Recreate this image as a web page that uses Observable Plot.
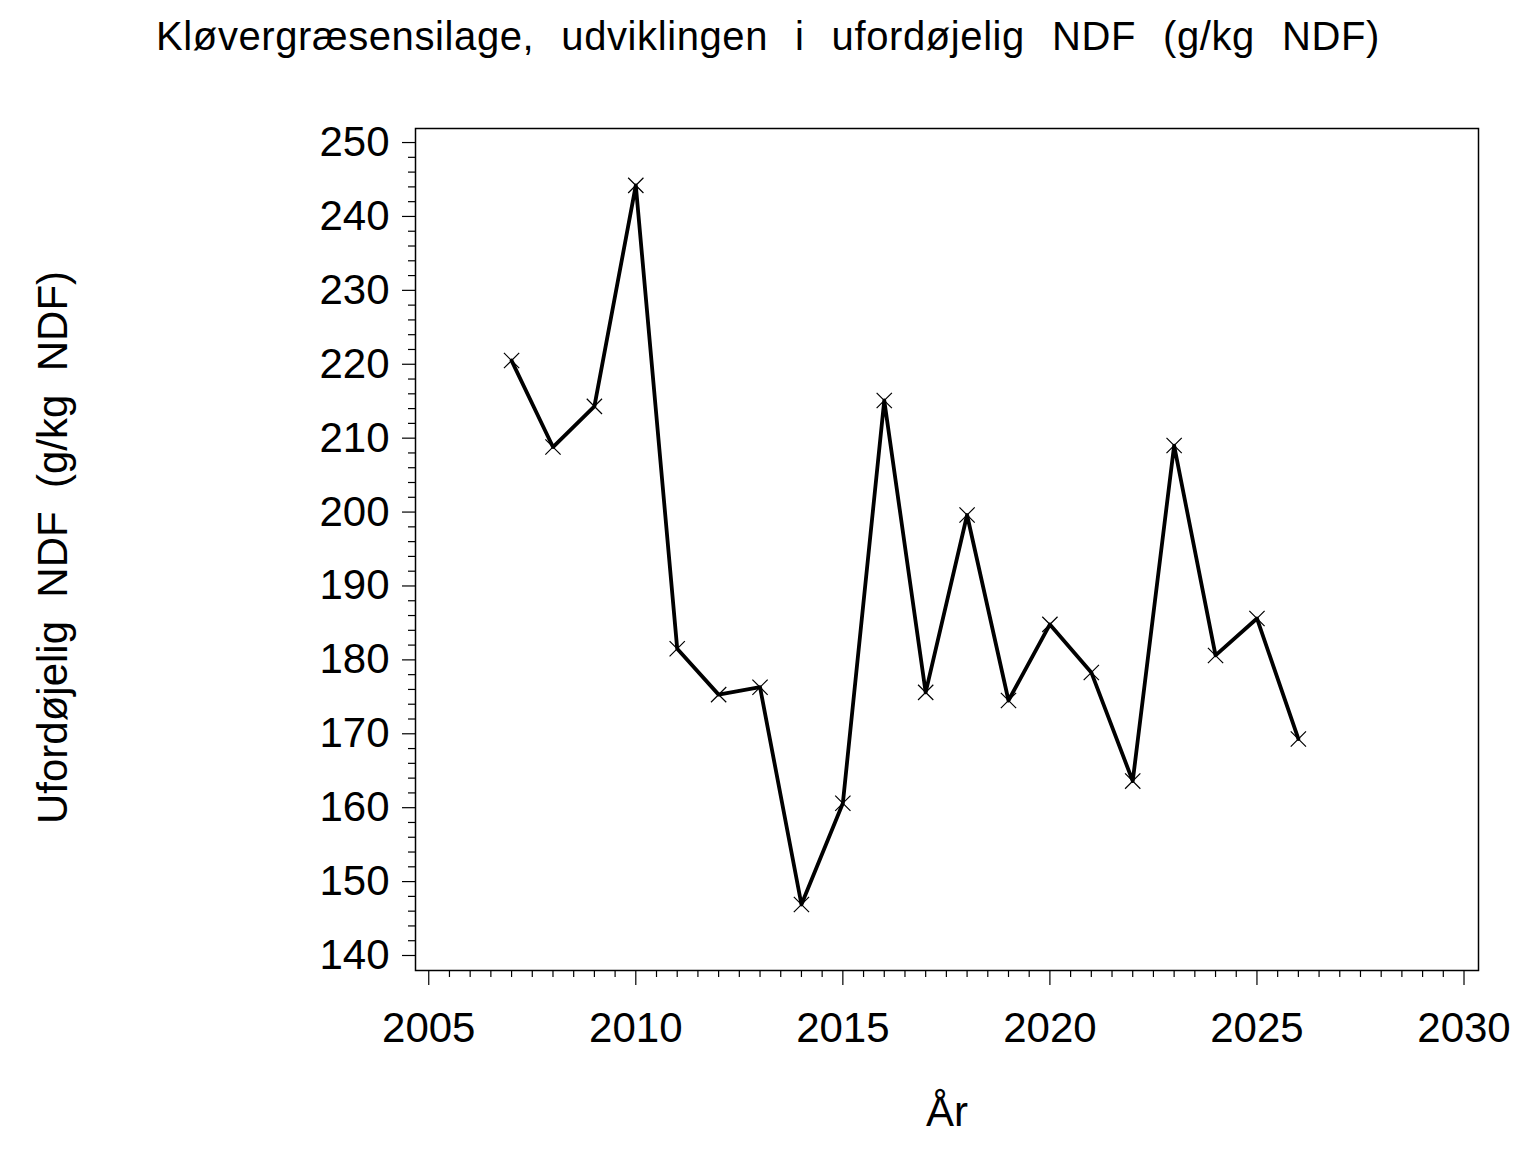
<!DOCTYPE html>
<html>
<head>
<meta charset="utf-8">
<script src="https://cdn.jsdelivr.net/npm/d3@7"></script>
<script src="https://cdn.jsdelivr.net/npm/@observablehq/plot@0.6"></script>
<style>
  html, body { margin: 0; padding: 0; background: #fff; }
  #wrap { width: 1536px; height: 1152px; position: relative; overflow: hidden; font-family: "Liberation Sans", Arial, sans-serif; }
  #title { height: 90px; box-sizing: border-box; padding-top: 16px; font-size: 40px; line-height: 40px; text-align: center; white-space: pre; color: #000; letter-spacing: 0.6px; word-spacing: 1.8px; }
</style>
</head>
<body>
<div id="wrap">
  <div id="title">Kløvergræsensilage,  udviklingen  i  ufordøjelig  NDF  (g/kg  NDF)</div>
  <div id="chart"></div>
</div>
<script>
const years = [2007, 2008, 2009, 2010, 2011, 2012, 2013, 2014, 2015, 2016, 2017, 2018, 2019, 2020, 2021, 2022, 2023, 2024, 2025, 2026];
const values = [220.5, 208.8, 214.3, 244.2, 181.5, 175.3, 176.3, 146.9, 160.6, 215.1, 175.6, 199.6, 174.5, 184.8, 178.3, 163.6, 209.0, 180.6, 185.6, 169.3];
const xMajorTicks = [2005, 2010, 2015, 2020, 2025, 2030];
const yMajorTicks = [140, 150, 160, 170, 180, 190, 200, 210, 220, 230, 240, 250];
const xMinorTicks = d3.range(2005, 2030.01, 0.5).filter(v => !xMajorTicks.includes(v));
const yMinorTicks = d3.range(140, 250.01, 2).filter(v => !yMajorTicks.includes(v));
const yLabel = "Ufordøjelig  NDF  (g/kg  NDF)";
const xLabel = "År";

const data = years.map((y, i) => ({year: y, value: values[i]}));

const chart = Plot.plot({
  width: 1536,
  height: 1062,
  marginLeft: 415,
  marginRight: 58,
  marginTop: 38,
  marginBottom: 182,
  style: {fontFamily: "'Liberation Sans', Arial, sans-serif", fontSize: "42px", color: "#000", background: "#fff", overflow: "visible"},
  x: {domain: [2004.68, 2030.35], label: null},
  y: {domain: [137.97, 251.9], label: null},
  marks: [
    Plot.frame({stroke: "#000", strokeWidth: 1.5}),
    Plot.axisY(yMinorTicks, {tickSize: 7, text: null, strokeWidth: 1.2}),
    Plot.axisY(yMajorTicks, {tickSize: 13, tickPadding: 13, strokeWidth: 1.2, fontSize: 42, tickFormat: d => String(d), label: null}),
    Plot.axisX(xMinorTicks, {tickSize: 7, text: null, strokeWidth: 1.2}),
    Plot.axisX(xMajorTicks, {tickSize: 15, tickPadding: 27, strokeWidth: 1.2, fontSize: 42, tickFormat: d => String(d), label: null}),
    Plot.line(data, {x: "year", y: "value", stroke: "#000", strokeWidth: 3.8}),
    Plot.dot(data, {x: "year", y: "value", symbol: "times", r: 7, stroke: "#000", strokeWidth: 1.2}),
    Plot.text([xLabel], {frameAnchor: "bottom", dy: 155, text: d => d, fontSize: 42, lineAnchor: "bottom"}),
    Plot.text([yLabel], {frameAnchor: "left", dx: -349, dy: -2, text: d => d, fontSize: 42, rotate: -90, textAnchor: "middle", lineAnchor: "bottom"})
  ]
});
document.getElementById("chart").appendChild(chart);
</script>
</body>
</html>
